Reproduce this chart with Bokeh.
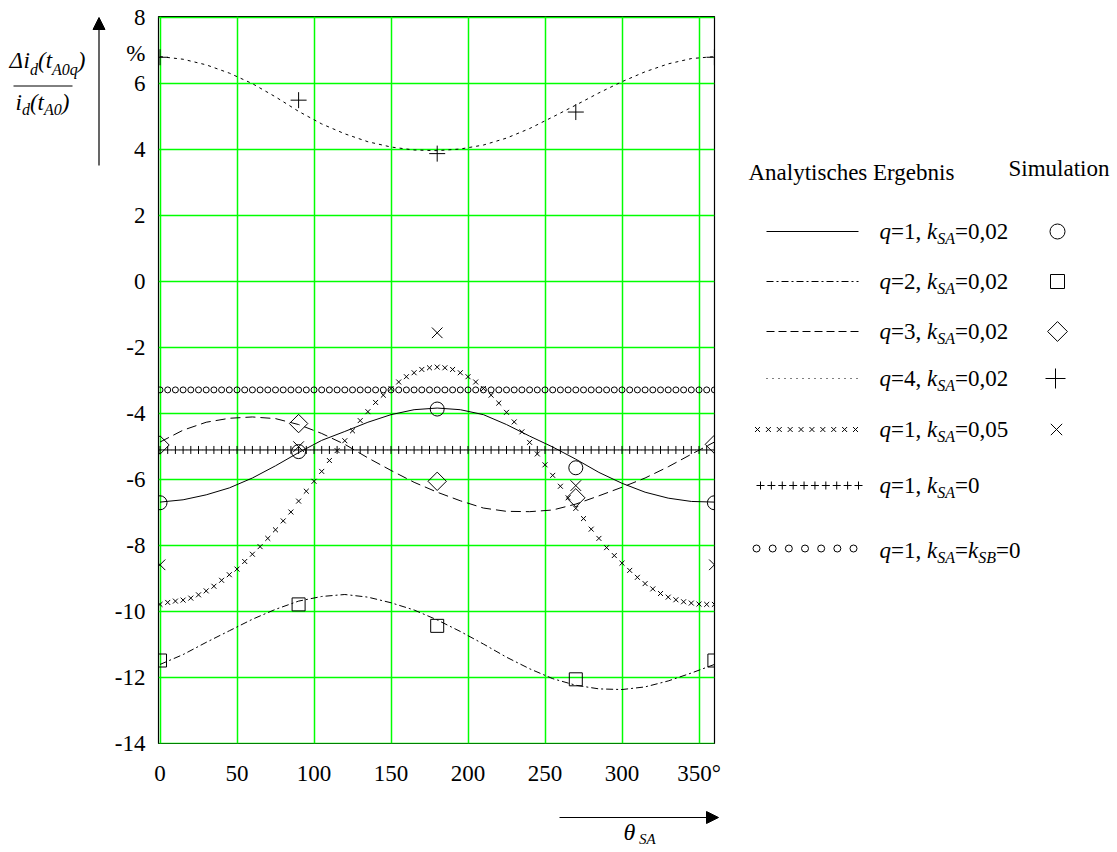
import numpy as np
from bokeh.plotting import figure
from bokeh.models import Range1d, FixedTicker, Label, Arrow, NormalHead, CustomJSTickFormatter
from bokeh.layouts import row, column
from bokeh.embed import file_html
from bokeh.resources import INLINE

# ---------------- data ----------------
theta5 = list(range(0, 361, 5))
theta15 = list(range(0, 361, 15))
theta_sim = [0, 90, 180, 270, 360]

# analytical curves, 15 degree steps
ana_q1 = [-6.70, -6.63, -6.48, -6.27, -5.97, -5.60, -5.20, -4.83, -4.56, -4.28, -4.05, -3.90, -3.85,
          -3.90, -4.05, -4.35, -4.70, -5.03, -5.40, -5.80, -6.13, -6.40, -6.58, -6.68, -6.70]
ana_q2 = [-11.62, -11.32, -10.95, -10.60, -10.25, -9.95, -9.70, -9.56, -9.50, -9.58, -9.75, -9.97, -10.27,
          -10.62, -11.00, -11.40, -11.75, -12.05, -12.25, -12.36, -12.38, -12.30, -12.12, -11.88, -11.62]
ana_q3 = [-4.88, -4.52, -4.28, -4.16, -4.12, -4.17, -4.35, -4.62, -4.95, -5.36, -5.74, -6.10, -6.40,
          -6.66, -6.88, -6.98, -6.99, -6.94, -6.76, -6.51, -6.25, -5.97, -5.63, -5.25, -4.88]
ana_q4 = [6.80, 6.72, 6.55, 6.30, 5.98, 5.58, 5.14, 4.76, 4.46, 4.22, 4.06, 3.97, 3.95,
          4.00, 4.12, 4.33, 4.62, 4.97, 5.33, 5.70, 6.04, 6.34, 6.58, 6.74, 6.80]

# q=1, k_SA=0,05 (5 degree steps)
ana_k005 = [-9.80, -9.74, -9.70, -9.67, -9.61, -9.51, -9.39, -9.25, -9.07, -8.90, -8.73, -8.50, -8.28,
            -8.05, -7.80, -7.54, -7.27, -7.00, -6.67, -6.37, -6.07, -5.77, -5.44, -5.14, -4.84, -4.54,
            -4.23, -3.96, -3.68, -3.46, -3.26, -3.06, -2.90, -2.78, -2.68, -2.63, -2.61, -2.63, -2.68,
            -2.78, -2.90, -3.06, -3.26, -3.46, -3.70, -3.98, -4.27, -4.57, -4.89, -5.24, -5.57, -5.89,
            -6.22, -6.57, -6.89, -7.20, -7.52, -7.80, -8.08, -8.32, -8.55, -8.77, -8.98, -9.17, -9.33,
            -9.47, -9.58, -9.66, -9.72, -9.76, -9.79, -9.80, -9.80]
# q=1, k_SA=0  and  q=1, k_SA=k_SB=0 (constant)
ana_k0 = [-5.12] * len(theta5)
ana_ksb0 = [-3.30] * len(theta5)

# simulation points
sim_q1 = [-6.72, -5.17, -3.88, -5.66, -6.72]
sim_q2 = [-11.50, -9.80, -10.45, -12.07, -11.50]
sim_q3 = [-4.97, -4.32, -6.07, -6.57, -4.95]
sim_q4 = [6.78, 5.48, 3.86, 5.12, 6.78]
sim_k005 = [-8.60, -5.02, -1.57, -6.20, -8.60]

x_ticks = [0, 50, 100, 150, 200, 250, 300, 350]
y_ticks = [-14, -12, -10, -8, -6, -4, -2, 0, 2, 4, 6, 8]
unit_tick = 6.88          # position of the "%" unit label on the y axis

legend_texts = [
    [("q", "italic"), ("=1, ", "normal"), ("k", "italic"), ("SA", "sub"), ("=0,02", "normal")],
    [("q", "italic"), ("=2, ", "normal"), ("k", "italic"), ("SA", "sub"), ("=0,02", "normal")],
    [("q", "italic"), ("=3, ", "normal"), ("k", "italic"), ("SA", "sub"), ("=0,02", "normal")],
    [("q", "italic"), ("=4, ", "normal"), ("k", "italic"), ("SA", "sub"), ("=0,02", "normal")],
    [("q", "italic"), ("=1, ", "normal"), ("k", "italic"), ("SA", "sub"), ("=0,05", "normal")],
    [("q", "italic"), ("=1, ", "normal"), ("k", "italic"), ("SA", "sub"), ("=0", "normal")],
    [("q", "italic"), ("=1, ", "normal"), ("k", "italic"), ("SA", "sub"), ("=", "normal"),
     ("k", "italic"), ("SB", "sub"), ("=0", "normal")],
]

# ---------------- styling / layout ----------------
FONT = "Liberation Serif"
FS = 23      # main font size
SUB = 16     # subscript size
GREEN = "#00ff00"

TOP_H = 798                 # height of the upper row of panels
T, FH = 16, 727             # frame top / frame height (shared by the row)
B = TOP_H - T - FH
LEFT_W = 110
MAIN_W = 630
ML, FW = 48, 556
MR = MAIN_W - ML - FW
LEG_X0 = LEFT_W + MAIN_W    # 740
TOTAL_W = 1117

PX_PER_DEG = 1.54
X0 = -1.5 / PX_PER_DEG
X1 = X0 + FW / PX_PER_DEG
PX_PER_UNIT = 33.0
Y1 = 8 + 0.5 / PX_PER_UNIT
Y0 = Y1 - FH / PX_PER_UNIT

REG = {' ': 250, ',': 250, '=': 564, '(': 333, ')': 333, '%': 833, '°': 400,
       'A': 722, 'E': 611, 'S': 556, 'a': 444, 'b': 500, 'c': 444, 'e': 444, 'g': 500,
       'h': 500, 'i': 278, 'l': 278, 'n': 500, 'o': 500, 'r': 333, 's': 389, 't': 278,
       'u': 500, 'y': 500, 'm': 778}
ITA = {' ': 250, 'q': 500, 'k': 444, 'S': 500, 'A': 611, 'B': 611, 'i': 278, 'd': 500,
       't': 278, '(': 333, ')': 333, 'Δ': 612, 'θ': 650}

BASE_SHIFT = 0.35   # empirical: Label baseline sits this many em below the requested y


def tw(s, italic, size):
    tab = ITA if italic else REG
    return sum(tab.get(c, 500) for c in s) / 1000.0 * size


def rich(fig, x, base, pieces, size=FS, sub=SUB, sub_dy=5):
    """lay out a run of text pieces (normal / italic / subscript) in pixel data coords"""
    for s, kind in pieces:
        italic = kind in ("italic", "sub")
        sz = sub if kind == "sub" else size
        dy = sub_dy if kind == "sub" else 0
        fig.add_layout(Label(x=x, y=base + dy - BASE_SHIFT * sz, text=s, text_font=FONT,
                             text_font_size=f"{sz}px",
                             text_font_style="italic" if italic else "normal",
                             text_baseline="alphabetic", text_align="left",
                             text_color="black"))
        x += tw(s, italic, sz)


def blank_panel(width, height, xr, yr, top=0, bottom=0):
    f = figure(width=width, height=height, x_range=Range1d(*xr), y_range=Range1d(*yr),
               output_backend="svg", toolbar_location=None, x_axis_type=None, y_axis_type=None,
               min_border_left=0, min_border_right=0, min_border_top=top, min_border_bottom=bottom)
    f.outline_line_color = None
    f.background_fill_color = "white"
    f.border_fill_color = "white"
    return f


# ---------------- main plot ----------------
p = figure(width=MAIN_W, height=TOP_H, x_range=Range1d(X0, X1), y_range=Range1d(Y0, Y1),
           output_backend="svg", toolbar_location=None,
           min_border_left=ML, min_border_right=MR, min_border_top=T, min_border_bottom=B)
p.background_fill_color = "white"
p.border_fill_color = "white"
p.outline_line_color = "black"
p.outline_line_width = 1.2

for g, ticks in ((p.xgrid, x_ticks), (p.ygrid, y_ticks)):
    g.ticker = FixedTicker(ticks=ticks)
    g.grid_line_color = GREEN
    g.grid_line_width = 1.5
    g.grid_line_alpha = 1.0

p.xaxis.ticker = FixedTicker(ticks=x_ticks)
p.yaxis.ticker = FixedTicker(ticks=y_ticks + [unit_tick])
p.xaxis.formatter = CustomJSTickFormatter(code="return tick == 350 ? '350\u00b0' : String(tick);")
p.yaxis.formatter = CustomJSTickFormatter(
    code="return Math.abs(tick - %s) < 1e-6 ? '%%' : String(tick);" % unit_tick)
for ax in (p.xaxis, p.yaxis):
    ax.axis_line_color = None
    ax.major_tick_line_color = None
    ax.minor_tick_line_color = None
    ax.major_label_text_font = FONT
    ax.major_label_text_font_size = f"{FS}px"
    ax.major_label_text_color = "black"
p.xaxis.major_label_standoff = 11
p.yaxis.major_label_standoff = 7

# analytical curves
p.line(theta15, ana_q1, line_color="black", line_width=1)
p.line(theta15, ana_q2, line_color="black", line_width=1, line_dash="7 3 2 3")
p.line(theta15, ana_q3, line_color="black", line_width=1, line_dash="10 5")
p.line(theta15, ana_q4, line_color="black", line_width=1, line_dash="3 4")
p.scatter(theta5, ana_k005, marker="x", size=7, line_color="black", line_width=1)
p.scatter(theta5, ana_k0, marker="cross", size=8, line_color="black", line_width=1)
p.scatter(theta5, ana_ksb0, marker="circle", size=6, line_color="black", fill_color=None, line_width=1)

# simulation points
p.scatter(theta_sim, sim_q1, marker="circle", size=14, line_color="black", fill_color=None)
p.scatter(theta_sim, sim_q2, marker="square", size=13, line_color="black", fill_color=None)
p.scatter(theta_sim, sim_q3, marker="square", angle=np.pi / 4, size=13, line_color="black", fill_color=None)
p.scatter(theta_sim, sim_q4, marker="cross", size=16, line_color="black")
p.scatter(theta_sim, sim_k005, marker="x", size=15, line_color="black")

# ---------------- left panel: y quantity (fraction) and arrow ----------------
left = blank_panel(LEFT_W, TOP_H, (0, LEFT_W), (T + FH, T), top=T, bottom=B)
rich(left, 9, 68, [("Δ", "italic"), ("i", "italic"), ("d", "sub"), ("(t", "italic"),
                   ("A0q", "sub"), (")", "italic")], size=23, sub=16, sub_dy=7)
rich(left, 15, 110, [("i", "italic"), ("d", "sub"), ("(t", "italic"), ("A0", "sub"),
                     (")", "italic")], size=23, sub=16, sub_dy=5)
left.line([13, 72], [85.5, 85.5], line_color="black", line_width=1)
left.add_layout(Arrow(end=NormalHead(size=12, fill_color="black", line_color="black"),
                      x_start=98.5, y_start=165, x_end=98.5, y_end=17,
                      line_color="black", line_width=1.2))

# ---------------- legend panel ----------------
lg = blank_panel(TOTAL_W - LEG_X0, TOP_H, (LEG_X0, TOTAL_W), (T + FH, T), top=T, bottom=B)
rich(lg, 748, 180, [("Analytisches Ergebnis", "normal")])
rich(lg, 1008, 176, [("Simulation", "normal")])

row_y = [231, 281, 331, 378, 429, 485, 550]
for ry, pieces in zip(row_y, legend_texts):
    rich(lg, 879, ry + 8, pieces)

lx0, lx1 = 766, 858
lg.line([lx0, lx1], [row_y[0]] * 2, line_color="black", line_width=1)
lg.line([lx0, lx1], [row_y[1]] * 2, line_color="black", line_width=1, line_dash="7 3 2 3")
lg.line([lx0, lx1], [row_y[2]] * 2, line_color="black", line_width=1, line_dash="8 4")
lg.line([lx0, lx1], [row_y[3]] * 2, line_color="black", line_width=1, line_dash="1 5")
xs5 = list(np.linspace(757, 855, 10))
lg.scatter(xs5, [row_y[4]] * 10, marker="x", size=7, line_color="black")
xs6 = list(np.linspace(760, 858, 10))
lg.scatter(xs6, [row_y[5]] * 10, marker="cross", size=8, line_color="black")
xs7 = list(np.linspace(756, 853, 7))
lg.scatter(xs7, [row_y[6] - 2] * 7, marker="circle", size=7, line_color="black", fill_color=None)

sx = 1057
lg.scatter([sx], [row_y[0]], marker="circle", size=15, line_color="black", fill_color=None)
lg.scatter([sx], [row_y[1]], marker="square", size=14, line_color="black", fill_color=None)
lg.scatter([sx], [row_y[2]], marker="square", angle=np.pi / 4, size=14, line_color="black", fill_color=None)
lg.scatter([sx - 2], [row_y[3]], marker="cross", size=20, line_color="black")
lg.scatter([sx - 1], [row_y[4]], marker="x", size=16, line_color="black")

# ---------------- bottom strip: x quantity and arrow ----------------
BOT_H = 852 - TOP_H
bot = blank_panel(TOTAL_W, BOT_H, (0, TOTAL_W), (852, TOP_H))
bot.add_layout(Arrow(end=NormalHead(size=12, fill_color="black", line_color="black"),
                     x_start=559, y_start=817, x_end=718, y_end=817,
                     line_color="black", line_width=1.2))
rich(bot, 623, 840, [("θ", "italic"), ("SA", "sub")], size=24, sub=15, sub_dy=4)

layout = column(row(left, p, lg), bot)
open("out.html", "w").write(file_html(layout, INLINE))
